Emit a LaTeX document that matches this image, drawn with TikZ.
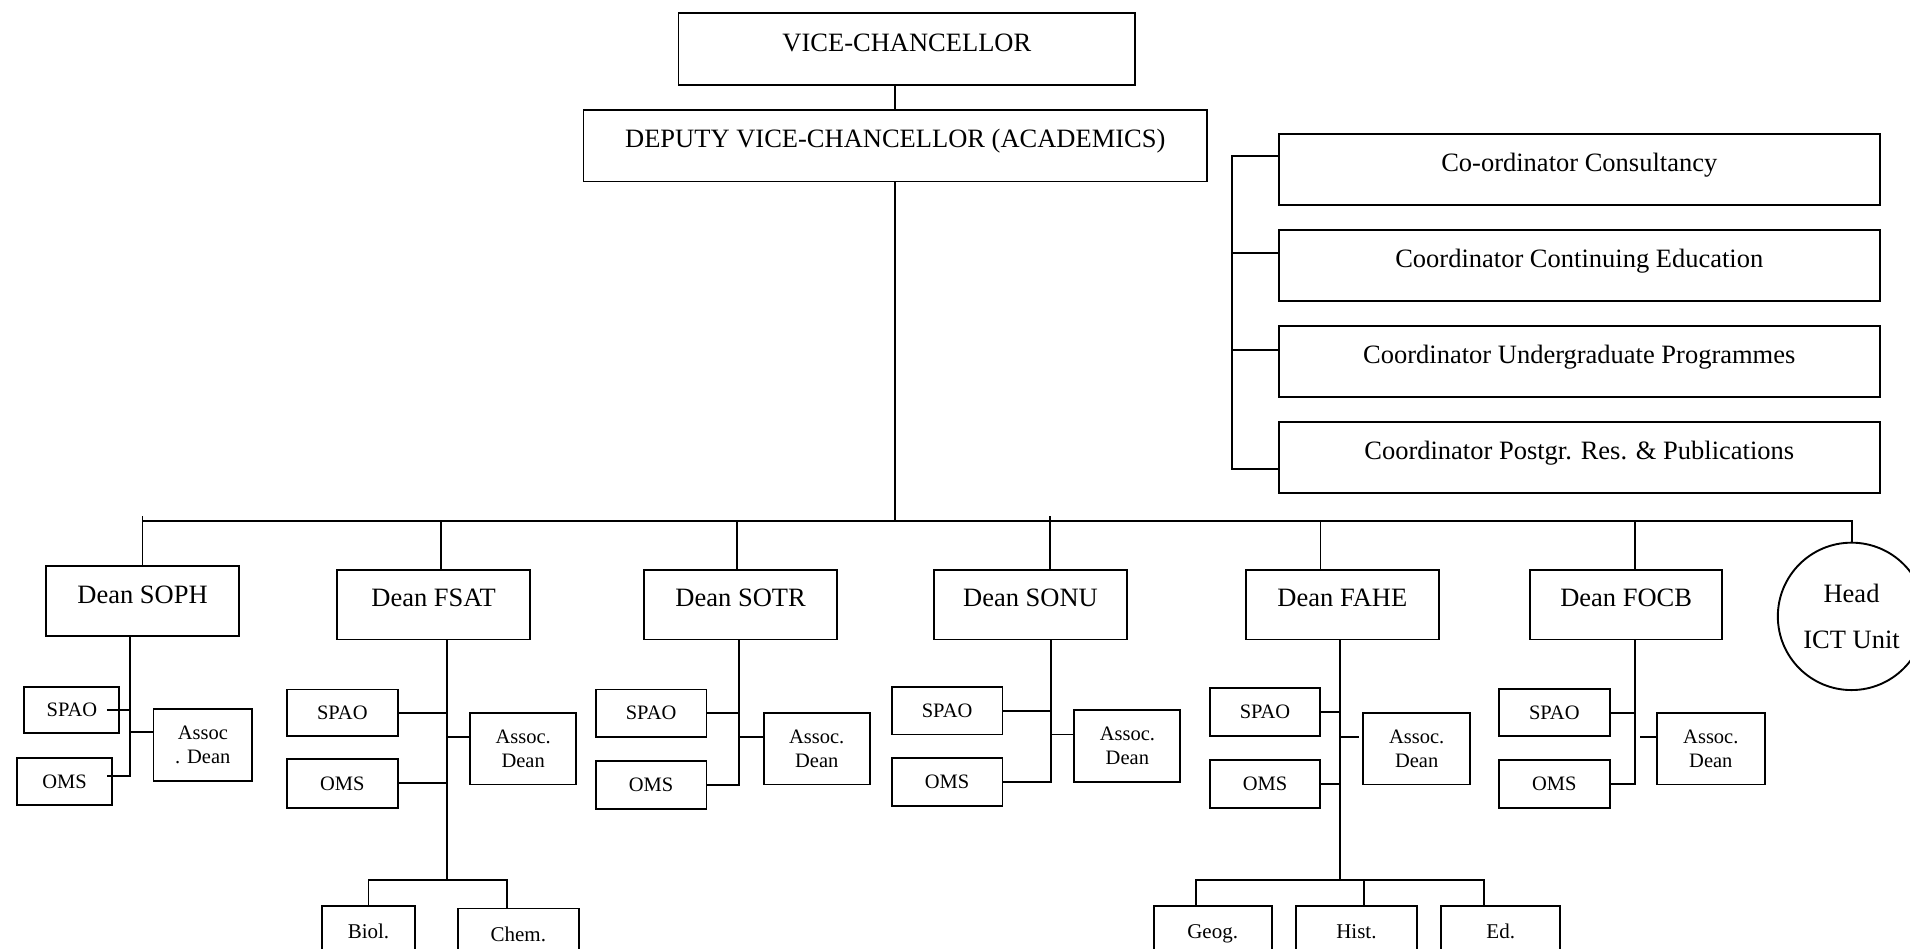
\documentclass[tikz,border=0pt]{standalone}
\usepackage{fontspec}
\setmainfont{Liberation Serif}

\tikzset{
  bigbox/.style={draw, inner sep=0pt, font=\fontsize{26.5}{32}\selectfont,
    text height=18pt, text depth=14pt, minimum height=71.9pt},
  smallbox/.style={draw, inner sep=0pt, font=\fontsize{20.5}{24}\selectfont,
    text height=13.5pt, text depth=0pt, minimum width=110.8pt, minimum height=47.5pt},
  assocbox/.style={draw, inner sep=0pt, align=center, font=\fontsize{20.5}{24.4}\selectfont,
    minimum width=106pt, minimum height=71.9pt},
  deptbox/.style={draw, inner sep=0pt, anchor=north, font=\fontsize{21}{24}\selectfont,
    text height=14pt, text depth=21.2pt, minimum height=73pt},
}

\begin{document}
\begin{tikzpicture}[x=1.2181pt,y=-1.2181pt,line width=1.9pt]
\clip (0,0) rectangle (1568,779);

% top of the chart
\node[bigbox, minimum width=456.8pt] (vc) at (744.5,40.5) {VICE-CHANCELLOR};
\node[bigbox, minimum width=623.7pt] (dvc) at (735,119.5) {DEPUTY VICE-CHANCELLOR (ACADEMICS)};
\draw (vc.south -| dvc.north) -- (dvc.north);

% coordinators
\node[bigbox, minimum width=600.5pt, minimum height=70.7pt] (co1) at (1296.5,139) {Co-ordinator Consultancy};
\node[bigbox, minimum width=600.5pt, minimum height=70.7pt] (co2) at (1296.5,218) {Coordinator Continuing Education};
\node[bigbox, minimum width=600.5pt, minimum height=70.7pt] (co3) at (1296.5,297) {Coordinator Undergraduate Programmes};
\node[bigbox, minimum width=600.5pt, minimum height=70.7pt] (co4) at (1296.5,375.5) {Coordinator Postgr. Res. \& Publications};
\draw ([yshift=13.4pt]co1.west) -- ++(-46pt,0) |- ([yshift=-11.6pt]co4.west);
\draw ([yshift=12.2pt]co2.west) -- ++(-46pt,0);
\draw ([yshift=12.2pt]co3.west) -- ++(-46pt,0);

% deans
\node[bigbox, minimum width=192.5pt, minimum height=69.4pt] (dsoph) at (117,493.5) {Dean SOPH};
\node[bigbox, minimum width=192.5pt, minimum height=69.4pt] (dfsat) at (356,496.5) {Dean FSAT};
\node[bigbox, minimum width=192.5pt, minimum height=69.4pt] (dsotr) at (608,496.5) {Dean SOTR};
\node[bigbox, minimum width=192.5pt, minimum height=69.4pt] (dsonu) at (846,496.5) {Dean SONU};
\node[bigbox, minimum width=192.5pt, minimum height=69.4pt] (dfahe) at (1102,496.5) {Dean FAHE};
\node[bigbox, minimum width=192.5pt, minimum height=69.4pt] (dfocb) at (1335,496.5) {Dean FOCB};
\node[draw, circle, inner sep=0pt, minimum size=147.4pt, align=center,
  font=\fontsize{26.5}{46}\selectfont] (head) at (1520,506) {Head\\ICT Unit};

\coordinate (busL) at (117,428);
\coordinate (busR) at (1520,428);
\draw (dvc.south) -- (dvc.south |- busL);
\draw (busL) -- (busR) -- (head.north);
\draw (dsoph.north) -- ++(0,-41);
\draw ([xshift=7.3pt]dfsat.north) -- ++(0,-40);
\draw ([xshift=-3.7pt]dsotr.north) -- ++(0,-40);
\draw ([xshift=19.5pt]dsonu.north) -- ++(0,-44);
\draw ([xshift=-21.9pt]dfahe.north) -- ++(0,-40);
\draw ([xshift=8.5pt]dfocb.north) -- ++(0,-40);

% SOPH
\node[smallbox, minimum width=95pt, minimum height=46.3pt] (spao1) at (59,583) {SPAO};
\node[smallbox, minimum width=95pt] (oms1) at (53,641.5) {OMS};
\node[assocbox, minimum width=98.7pt] (ass1) at (166.5,611.5) {Assoc\\. Dean};
\draw ([xshift=-12.2pt]dsoph.south) coordinate (s1) |- ([xshift=-6pt,yshift=5.5pt]oms1.east);
\draw ([xshift=-13.4pt]spao1.east) -- (spao1.east -| s1);
\draw ([yshift=12.8pt]ass1.west) -- ([yshift=12.8pt]ass1.west -| s1);

% FSAT
\node[smallbox, minimum height=46.3pt] (spao2) at (281,585) {SPAO};
\node[smallbox, minimum height=48.7pt] (oms2) at (281,643) {OMS};
\node[assocbox] (ass2) at (429.5,614.5) {Assoc.\\Dean};
\draw ([xshift=13.4pt]dfsat.south) coordinate (s2) -- ++(0,197) coordinate (f2);
\draw (spao2.east) -- (spao2.east -| s2);
\draw (oms2.east) -- (oms2.east -| s2);
\draw ([yshift=11.6pt]ass2.west) -- ([yshift=11.6pt]ass2.west -| s2);
\node[deptbox, minimum width=93.8pt] (biol) at (302.5,743) {Biol.};
\node[deptbox, minimum width=120.6pt] (chem) at (425.5,745) {Chem.};
\draw (biol.north) |- (f2) -| ([xshift=-11.6pt]chem.north);

% SOTR
\node[smallbox] (spao3) at (534.5,585.5) {SPAO};
\node[smallbox] (oms3) at (534.5,644.5) {OMS};
\node[assocbox] (ass3) at (670.5,614.5) {Assoc.\\Dean};
\draw ([xshift=-1.2pt]dsotr.south) coordinate (s3) |- (oms3.east);
\draw (spao3.east) -- (spao3.east -| s3);
\draw ([yshift=11.6pt]ass3.west) -- ([yshift=11.6pt]ass3.west -| s3);

% SONU
\node[smallbox] (spao4) at (777.5,583.5) {SPAO};
\node[smallbox] (oms4) at (777.5,642) {OMS};
\node[assocbox] (ass4) at (925.5,612.5) {Assoc.\\Dean};
\draw ([xshift=20.7pt]dsonu.south) coordinate (s4) |- (oms4.east);
\draw (spao4.east) -- (spao4.east -| s4);
\draw ([yshift=11.6pt]ass4.west) -- ([yshift=11.6pt]ass4.west -| s4);

% FAHE
\node[smallbox] (spao5) at (1038.5,584.5) {SPAO};
\node[smallbox] (oms5) at (1038.5,643.5) {OMS};
\node[assocbox, minimum width=107.2pt] (ass5) at (1163,614.5) {Assoc.\\Dean};
\draw ([xshift=-2.4pt]dfahe.south) coordinate (s5) -- ++(0,197) coordinate (f5);
\draw (spao5.east) -- (spao5.east -| s5);
\draw (oms5.east) -- (oms5.east -| s5);
\draw ([xshift=-3.6pt,yshift=11.6pt]ass5.west) -- ([yshift=11.6pt]ass5.west -| s5);
\node[deptbox, minimum width=118pt] (geog) at (995.5,743) {Geog.};
\node[deptbox, minimum width=120.6pt] (hist) at (1113.5,743) {Hist.};
\node[deptbox, minimum width=119.4pt] (ed) at (1232,743) {Ed.};
\draw ([xshift=-16.4pt]geog.north) |- (f5) -| ([xshift=-17pt]ed.north);
\draw ([xshift=7.9pt]hist.north) -- ++(0,-21);

% FOCB
\node[smallbox] (spao6) at (1276,585) {SPAO};
\node[smallbox] (oms6) at (1276,643.5) {OMS};
\node[assocbox, minimum width=108.4pt] (ass6) at (1404.5,614.5) {Assoc.\\Dean};
\draw ([xshift=8.5pt]dfocb.south) coordinate (s6) |- (oms6.east);
\draw (spao6.east) -- (spao6.east -| s6);
\draw ([yshift=11.6pt]ass6.west) -- ++(-15.8pt,0);

\end{tikzpicture}
\end{document}
